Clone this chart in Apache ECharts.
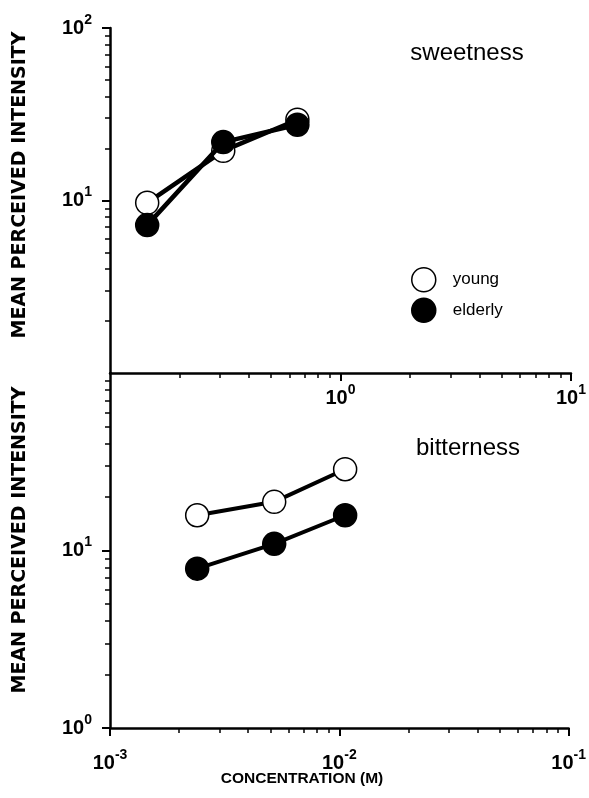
<!DOCTYPE html>
<html>
<head>
<meta charset="utf-8">
<title>sweetness / bitterness</title>
<script src="https://cdn.jsdelivr.net/npm/echarts@6.0.0/dist/echarts.min.js"></script>
<style>
  html, body { margin: 0; padding: 0; background: #fff; }
  #chart { width: 589px; height: 798px; }
</style>
</head>
<body>
<div id="chart"></div>
<script>
// sweetness panel (concentration in M, upper log axis)
const sweetConc = [0.145, 0.31, 0.65]
const sweetYoung = [9.7, 19.4, 29.4]
const sweetElderly = [7.2, 21.8, 27.5]

// bitterness panel (concentration in M, lower log axis)
const bitterConc = [0.0024, 0.0052, 0.0106]
const bitterYoung = [15.8, 18.8, 28.7]
const bitterElderly = [7.9, 10.9, 15.8]

// minor ticks of the log axes
const minorY = [2, 3, 4, 5, 6, 7, 8, 9, 20, 30, 40, 50, 60, 70, 80, 90]
const minorXTop = [0.2, 0.3, 0.4, 0.5, 0.6, 0.7, 0.8, 0.9, 2, 3, 4, 5, 6, 7, 8, 9]
const minorXBottom = [0.002, 0.003, 0.004, 0.005, 0.006, 0.007, 0.008, 0.009,
  0.02, 0.03, 0.04, 0.05, 0.06, 0.07, 0.08, 0.09]

const FONT = 'Liberation Sans'

// 10 with the exponent raised
const powLabel = (v) => {
  const e = Math.round(Math.log10(v))
  return '{b|10}{s|' + e + '}'
}
const labelRich = {
  b: { fontSize: 20, fontWeight: 'bold', fontFamily: FONT, color: '#000', lineHeight: 30 },
  s: { fontSize: 14, fontWeight: 'bold', fontFamily: FONT, color: '#000', lineHeight: 14, verticalAlign: 'top' }
}

const axisLine = { show: true, lineStyle: { color: '#000', width: 2.5 } }

const majorAxis = (grid, min, max, extra) => Object.assign({
  type: 'log',
  logBase: 10,
  gridIndex: grid,
  min: min,
  max: max,
  axisLine: axisLine,
  axisTick: { show: true, length: 8, lineStyle: { color: '#000', width: 2 } },
  splitLine: { show: false }
}, extra)

const minorAxis = (grid, min, max, ticks, pos) => ({
  type: 'log',
  logBase: 10,
  gridIndex: grid,
  min: min,
  max: max,
  position: pos,
  offset: 0,
  axisLine: { show: false },
  axisTick: { show: true, length: 5, customValues: ticks, lineStyle: { color: '#000', width: 1.5 } },
  axisLabel: { show: false },
  splitLine: { show: false }
})

const seriesOf = (name, conc, vals, grid, filled, lw) => ({
  name: name,
  type: 'line',
  xAxisIndex: grid,
  yAxisIndex: grid,
  data: conc.map((c, i) => [c, vals[i]]),
  symbol: 'circle',
  symbolSize: 23,
  showSymbol: true,
  z: filled ? 3 : 2,
  lineStyle: { color: '#000', width: lw },
  itemStyle: { color: filled ? '#000' : '#fff', borderColor: '#000', borderWidth: 1.5 },
  emphasis: { disabled: true }
})

const options = {
  animation: false,
  backgroundColor: '#fff',
  grid: [
    { left: 110, top: 28, width: 463, height: 345 },
    { left: 110, top: 373, width: 463, height: 355 }
  ],
  xAxis: [
    majorAxis(0, 0.1, 10, { position: 'bottom', axisLabel: { formatter: powLabel, rich: labelRich, margin: 10, showMinLabel: false } }),
    majorAxis(1, 0.001, 0.1, { position: 'bottom', axisLabel: { formatter: powLabel, rich: labelRich, margin: 20 } }),
    minorAxis(0, 0.1, 10, minorXTop, 'bottom'),
    minorAxis(1, 0.001, 0.1, minorXBottom, 'bottom')
  ],
  yAxis: [
    majorAxis(0, 1, 100, { position: 'left', axisLabel: { formatter: powLabel, rich: labelRich, margin: 18, showMinLabel: false } }),
    majorAxis(1, 1, 100, { position: 'left', axisLabel: { formatter: powLabel, rich: labelRich, margin: 18, showMaxLabel: false } }),
    minorAxis(0, 1, 100, minorY, 'left'),
    minorAxis(1, 1, 100, minorY, 'left')
  ],
  legend: {
    orient: 'vertical',
    left: 406,
    top: 262,
    itemWidth: 48,
    itemHeight: 24,
    itemGap: 5,
    selectedMode: false,
    textStyle: { fontFamily: FONT, fontSize: 17, color: '#000' },
    data: [
      { name: 'young', icon: 'circle', itemStyle: { color: '#fff', borderColor: '#000', borderWidth: 1.5 } },
      { name: 'elderly', icon: 'circle', itemStyle: { color: '#000', borderColor: '#000', borderWidth: 1.5 } }
    ]
  },
  graphic: [
    { type: 'text', x: 467, y: 53, style: { text: 'sweetness', font: '24px "Liberation Sans"', fill: '#000', align: 'center', verticalAlign: 'middle' } },
    { type: 'text', x: 468, y: 448, style: { text: 'bitterness', font: '24px "Liberation Sans"', fill: '#000', align: 'center', verticalAlign: 'middle' } },
    { type: 'text', x: 20, y: 185, rotation: Math.PI / 2, style: { text: 'MEAN PERCEIVED INTENSITY', font: 'bold 19px "DejaVu Sans"', fill: '#000', align: 'center', verticalAlign: 'middle' } },
    { type: 'text', x: 20, y: 540, rotation: Math.PI / 2, style: { text: 'MEAN PERCEIVED INTENSITY', font: 'bold 19px "DejaVu Sans"', fill: '#000', align: 'center', verticalAlign: 'middle' } },
    { type: 'text', x: 302, y: 779, style: { text: 'CONCENTRATION (M)', font: 'bold 15.5px "Liberation Sans"', fill: '#000', align: 'center', verticalAlign: 'middle' } }
  ],
  series: [
    seriesOf('young', sweetConc, sweetYoung, 0, false, 4.5),
    seriesOf('elderly', sweetConc, sweetElderly, 0, true, 4.5),
    seriesOf('young', bitterConc, bitterYoung, 1, false, 4),
    seriesOf('elderly', bitterConc, bitterElderly, 1, true, 4)
  ]
}

const chart = echarts.init(document.getElementById('chart'))
chart.setOption(options)
window.addEventListener('resize', () => {
  chart.resize()
})
</script>
</body>
</html>
